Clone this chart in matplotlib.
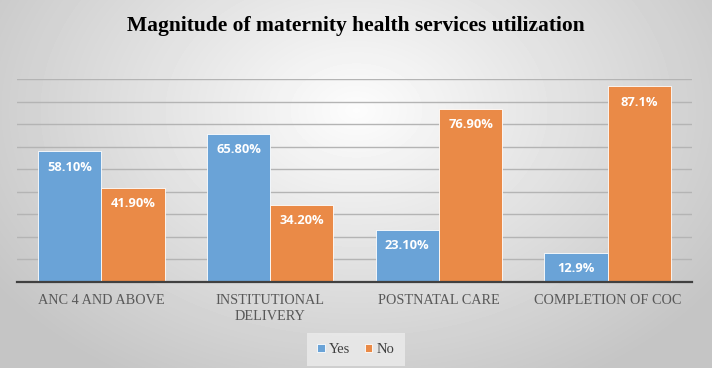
import numpy as np
import matplotlib
matplotlib.use("Agg")
import matplotlib.pyplot as plt

categories = ["ANC 4 AND ABOVE", "INSTITUTIONAL\nDELIVERY", "POSTNATAL CARE", "COMPLETION OF COC"]
yesValues = [58.1, 65.8, 23.1, 12.9]
noValues = [41.9, 34.2, 76.9, 87.1]
yesLabels = ["58.10%", "65.80%", "23.10%", "12.9%"]
noLabels = ["41.90%", "34.20%", "76.90%", "87.1%"]

blue = "#6aa3d7"
orange = "#ea8a47"

fig = plt.figure(figsize=(7.12, 3.68), dpi=100)

# radial gray background
bg = fig.add_axes([0, 0, 1, 1], zorder=-10)
yy, xx = np.mgrid[0:368, 0:712]
r = np.sqrt(((xx - 356) / 420.0) ** 2 + ((yy - 110) / 300.0) ** 2)
shade = np.clip(0.99 - 0.21 * r, 0.77, 0.99)
bg.imshow(shade, cmap="gray", vmin=0, vmax=1, aspect="auto", extent=[0, 1, 0, 1])
bg.set_axis_off()

ax = fig.add_axes([0.024, 0.234, 0.948, 0.55])
ax.patch.set_alpha(0)

x = np.arange(len(categories))
w = 0.375
yesBars = ax.bar(x - w / 2, yesValues, w, color=blue, edgecolor="white", linewidth=0.6, label="Yes", zorder=3)
noBars = ax.bar(x + w / 2, noValues, w, color=orange, edgecolor="white", linewidth=0.6, label="No", zorder=3)

for bars, labels in [(yesBars, yesLabels), (noBars, noLabels)]:
    for b, lab in zip(bars, labels):
        ax.annotate(lab, (b.get_x() + b.get_width() / 2, b.get_height()),
                    xytext=(0, -16), textcoords="offset pixels",
                    ha="center", va="center", color="white", fontweight="bold",
                    fontsize=9.3, family="Open Sans", zorder=4)

ax.set_ylim(0, 90)
ax.set_xlim(-0.5, 3.5)
ax.set_yticks(np.arange(10, 91, 10))
ax.yaxis.grid(True, color="#b4b4b4", linewidth=1.0, zorder=0)
ax.tick_params(axis="y", left=False, labelleft=False)
ax.tick_params(axis="x", length=0, pad=9)
ax.set_xticks(x)
ax.set_xticklabels(categories, family="Liberation Serif", fontsize=10.3, color="#595959",
                   linespacing=1.25, multialignment="center")
for s in ["top", "right", "left"]:
    ax.spines[s].set_visible(False)
ax.spines["bottom"].set_color("#404040")
ax.spines["bottom"].set_linewidth(1.6)
ax.spines["bottom"].set_zorder(5)

fig.text(0.5, 0.93, "Magnitude of maternity health services utilization", ha="center", va="center",
         family="Liberation Serif", fontweight="bold", fontsize=15.5, color="black")

leg = fig.legend(handles=[yesBars, noBars], labels=["Yes", "No"], loc="center", bbox_to_anchor=(0.5, 0.05),
                 ncol=2, frameon=True, handlelength=0.5, handleheight=0.5, handletextpad=0.3,
                 columnspacing=1.0, prop={"family": "Liberation Serif", "size": 10.5})
leg.get_frame().set_facecolor("#ececec")
leg.get_frame().set_edgecolor("none")
leg.get_frame().set_boxstyle("square")
for t in leg.get_texts():
    t.set_color("#404040")

fig.savefig("out.png", dpi=100)
